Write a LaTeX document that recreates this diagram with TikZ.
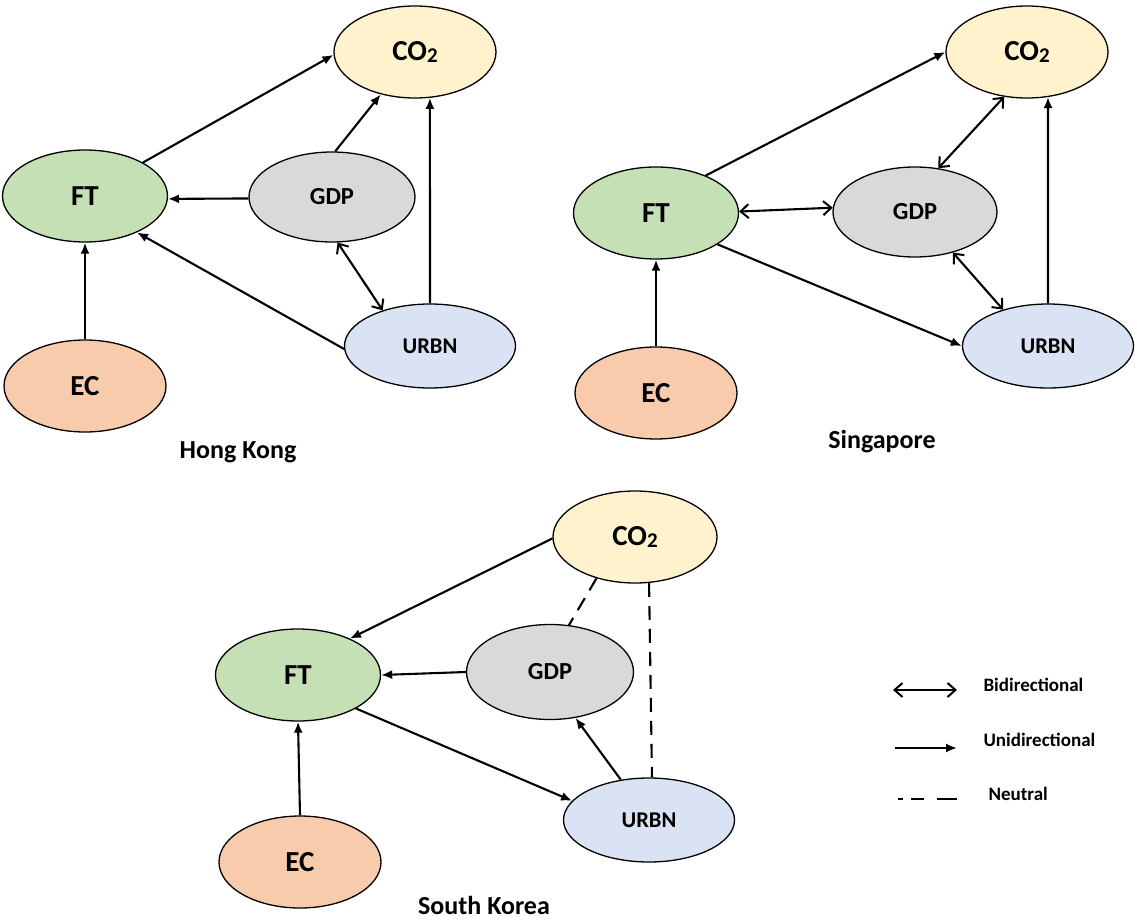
\documentclass[tikz,border=0pt]{standalone}
\usepackage{fontspec}
\setmainfont{Carlito}
\usetikzlibrary{shapes.geometric,arrows.meta}
\definecolor{cco}{HTML}{FFF2CC}
\definecolor{cft}{HTML}{C5E0B4}
\definecolor{cgdp}{HTML}{D9D9D9}
\definecolor{curbn}{HTML}{DAE3F3}
\definecolor{cec}{HTML}{F8CBAD}
\tikzset{
  ell/.style={ellipse, draw=black, line width=1.3pt, inner sep=0pt},
  big/.style={ell, minimum width=162pt, minimum height=92pt, font=\fontsize{29}{32}\selectfont\bfseries},
  mid/.style={ell, minimum width=166pt, minimum height=90pt, font=\fontsize{24.5}{27}\selectfont\bfseries},
  coS/.style={big, fill=cco},
  ftS/.style={big, fill=cft, minimum width=165pt},
  ecS/.style={big, fill=cec},
  gdpS/.style={mid, fill=cgdp},
  urbS/.style={mid, fill=curbn, minimum width=171pt, minimum height=84pt, font=\fontsize{22.5}{25}\selectfont\bfseries},
  uni/.style={line width=2.1pt, -{Latex[length=11pt,width=9pt]}},
  bi/.style={line width=2.1pt, {Straight Barb[length=8pt,width=14pt,line width=2pt]}-{Straight Barb[length=8pt,width=14pt,line width=2pt]}},
  neu/.style={line width=2.1pt, dash pattern=on 14pt off 9pt},
  ttl/.style={font=\fontsize{26}{30}\selectfont\bfseries},
  leg/.style={font=\fontsize{19}{22}\selectfont\bfseries, anchor=west}
}
\newcommand{\mycotwo}{CO\raisebox{-0.12ex}{\fontsize{21}{23}\selectfont 2}}
\begin{document}
\begin{tikzpicture}[x=1pt,y=-1pt]
\useasboundingbox (0,0) rectangle (1137,923);
% Hong Kong
\node[coS] (hco) at (415,52) {\mycotwo};
\node[ftS] (hft) at (85,196) {FT};
\node[gdpS] (hgdp) at (332,197) {GDP};
\node[urbS] (hurb) at (430,346) {URBN};
\node[ecS] (hec) at (85,386) {EC};
\node[ttl] (hkl) at (238,452) {Hong Kong};
\draw[uni] (hft.30) -- (hco.182);
\draw[uni] (hgdp.86) -- (hco.231);
\draw[uni] (hgdp.181) -- (hft.358);
\draw[uni] (hurb.182) -- (hft.325);
\draw[uni] (hurb.90) -- (hco.288);
\draw[bi] (hgdp.277) -- (hurb.143);
\draw[uni] (hec.north) -- (hft.south);
% Singapore
\node[coS] (sco) at (1027,52) {\mycotwo};
\node[ftS] (sft) at (656,213) {FT};
\node[gdpS, minimum width=164pt] (sgdp) at (915,212) {GDP};
\node[urbS] (surb) at (1048,346) {URBN};
\node[ecS] (sec) at (656,393) {EC};
\node[ttl] (sgl) at (882,442) {Singapore};
\draw[uni] (sft.37) -- (sco.180);
\draw[bi] (sco.243) -- (sgdp.62);
\draw[bi] (sft.1) -- (sgdp.177);
\draw[uni] (sft.333) -- (surb.180);
\draw[bi] (sgdp.313) -- (surb.141);
\draw[uni] (surb.90) -- (sco.295);
\draw[uni] (sec.north) -- (sft.south);
% South Korea
\node[coS, minimum width=164pt] (kco) at (635,537) {\mycotwo};
\node[ftS] (kft) at (298,675) {FT};
\node[gdpS, minimum width=167pt, minimum height=95pt] (kgdp) at (550,672) {GDP};
\node[urbS] (kurb) at (649,820) {URBN};
\node[ecS] (kec) at (300,862) {EC};
\node[ttl] (skl) at (484,905) {South Korea};
\draw[uni] (kco.181) -- (kft.35);
\draw[uni] (kgdp.180) -- (kft.0);
\draw[uni] (kft.330) -- (kurb.166);
\draw[uni] (kurb.125) -- (kgdp.299);
\draw[neu] (kco.227) -- (kgdp.68);
\draw[neu] (kco.287) -- (kurb.86);
\draw[uni] (kec.north) -- (kft.south);
% Legend
\coordinate (b1) at (893,690);
\coordinate (b2) at (957,690);
\coordinate (u1) at (895,748);
\coordinate (u2) at (957,748);
\coordinate (n1) at (898,799);
\coordinate (n2) at (957,799);
\draw[bi] (b1) -- (b2);
\draw[uni] (u1) -- (u2);
\draw[neu, dash pattern=on 5pt off 8pt on 13pt off 13pt on 20pt off 5pt] (n1) -- (n2);
\node[leg] (lb) at (980,685) {Bidirectional};
\node[leg] (lu) at (980,740) {Unidirectional};
\node[leg] (ln) at (985,794) {Neutral};
\end{tikzpicture}
\end{document}
